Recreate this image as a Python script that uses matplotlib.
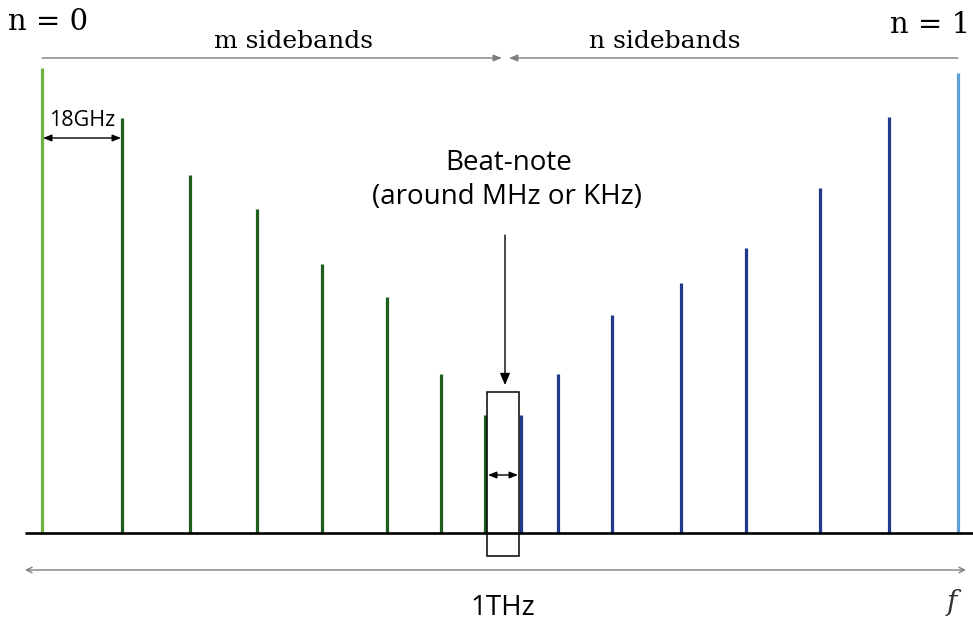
import matplotlib
matplotlib.use("Agg")
import matplotlib.pyplot as plt
from matplotlib.patches import Rectangle

# sideband positions (horizontal, figure units) and amplitudes
m_pos = [42, 122, 190, 257, 322, 387, 441, 485]
m_amp = [465, 415, 358, 324, 269, 236, 159, 118]
n_pos = [521, 558, 612, 681, 746, 820, 889, 958]
n_amp = [118, 159, 218, 250, 285, 345, 416, 460]
m_colors = ["#6fb03e"] + ["#1d5e1d"] * 7
n_colors = ["#1e3a8c"] * 7 + ["#5fa0d8"]

BASE = 533
W, H = 973, 627

fig = plt.figure(figsize=(W / 100, H / 100), dpi=100)
ax = fig.add_axes([0, 0, 1, 1])
ax.set_xlim(0, W)
ax.set_ylim(H, 0)
ax.axis("off")

# spectral lines
for x, a, c in zip(m_pos + n_pos, m_amp + n_amp, m_colors + n_colors):
    ax.vlines(x, BASE, BASE - a, color=c, linewidth=2.3, zorder=2)

# frequency axis
ax.hlines(BASE, 25, W, color="black", linewidth=1.9, zorder=3)

serif = "DejaVu Serif"
sans = "Open Sans"

# top labels
ax.text(8, 22, "n = 0", fontsize=21, family=serif, va="center", ha="left")
ax.text(W - 3, 25, "n = 1", fontsize=21, family=serif, va="center", ha="right")
ax.text(293, 42, "m sidebands", fontsize=18, family=serif, ha="center", va="center")
ax.text(665, 42, "n sidebands", fontsize=18, family=serif, ha="center", va="center")

gray = "#7f7f7f"
ax.annotate("", xy=(502, 58), xytext=(m_pos[0], 58),
            arrowprops=dict(arrowstyle="-|>,head_length=0.5,head_width=0.2", color=gray, lw=1, shrinkA=0, shrinkB=0))
ax.annotate("", xy=(509, 58), xytext=(n_pos[-1], 58),
            arrowprops=dict(arrowstyle="-|>,head_length=0.5,head_width=0.2", color=gray, lw=1, shrinkA=0, shrinkB=0))

# 18 GHz spacing
ax.text(82, 120, "18GHz", fontsize=15.5, family=sans, ha="center", va="center")
ax.annotate("", xy=(m_pos[0] + 1, 138), xytext=(m_pos[1] - 1, 138),
            arrowprops=dict(arrowstyle="<|-|>,head_length=0.5,head_width=0.2", color="black", lw=1, shrinkA=0, shrinkB=0))

# beat note
ax.text(509, 163, "Beat-note", fontsize=20, family=sans, ha="center", va="center")
ax.text(507, 197, "(around MHz or KHz)", fontsize=20, family=sans, ha="center", va="center")
ax.annotate("", xy=(505, 385), xytext=(505, 235),
            arrowprops=dict(arrowstyle="-|>,head_length=0.7,head_width=0.3", color="black", lw=1, shrinkA=0, shrinkB=0))
ax.add_patch(Rectangle((487, 392), 32, 164, fill=False, edgecolor="black", linewidth=1.1, zorder=4))
ax.annotate("", xy=(488, 475), xytext=(518, 475),
            arrowprops=dict(arrowstyle="<|-|>,head_length=0.5,head_width=0.2", color="black", lw=1, shrinkA=0, shrinkB=0))

# full span
ax.annotate("", xy=(25, 570), xytext=(966, 570),
            arrowprops=dict(arrowstyle="<->,head_length=0.4,head_width=0.2", color=gray, lw=1, shrinkA=0, shrinkB=0))
ax.text(503, 608, "1THz", fontsize=20, family=sans, ha="center", va="center")
ax.text(952, 603, "f", fontsize=20, family=serif, style="italic", ha="center", va="center", color="#333333")

fig.savefig("out.png", dpi=100)
